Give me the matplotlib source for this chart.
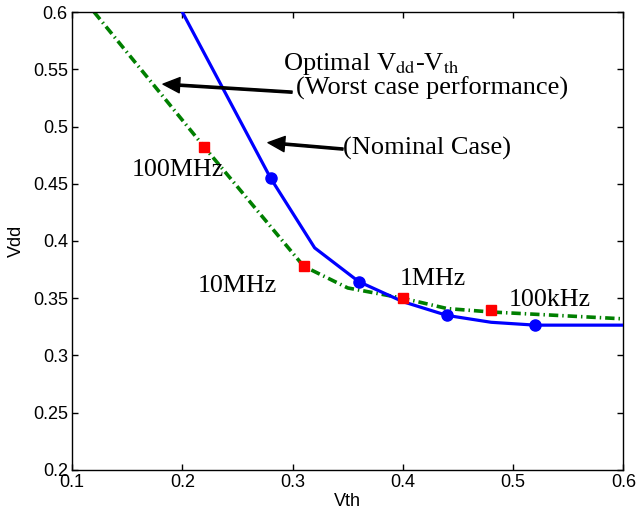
import matplotlib
matplotlib.use("Agg")
import matplotlib.pyplot as plt

# nominal case (blue)
nom_vth = [0.20, 0.28, 0.32, 0.36, 0.40, 0.44, 0.48, 0.52, 0.56, 0.60]
nom_vdd = [0.600, 0.455, 0.394, 0.3645, 0.347, 0.335, 0.329, 0.3265, 0.3265, 0.3265]
nom_mark_vth = [0.28, 0.36, 0.44, 0.52]
nom_mark_vdd = [0.455, 0.3645, 0.335, 0.3265]

# worst case (green dash-dot)
wc_vth = [0.12, 0.22, 0.31, 0.35, 0.40, 0.44, 0.48, 0.54, 0.60]
wc_vdd = [0.600, 0.482, 0.378, 0.359, 0.350, 0.341, 0.338, 0.335, 0.332]

# frequency points (red squares)
freq_vth = [0.22, 0.31, 0.40, 0.48]
freq_vdd = [0.482, 0.378, 0.350, 0.340]
freq_labels = ["100MHz", "10MHz", "1MHz", "100kHz"]
freq_label_pos = [(0.1544, 0.4568), (0.2142, 0.3552), (0.3974, 0.3616), (0.4962, 0.3435)]

xticks = [0.1, 0.2, 0.3, 0.4, 0.5, 0.6]
yticks = [0.2, 0.25, 0.3, 0.35, 0.4, 0.45, 0.5, 0.55, 0.6]

plt.rcParams['font.family'] = ['Liberation Sans', 'DejaVu Sans']
plt.rcParams['mathtext.fontset'] = 'stix'

fig = plt.figure(figsize=(6.39, 5.20), dpi=100)
ax = fig.add_axes([0.1127, 0.0962, 0.8630, 0.8807])

ax.plot(nom_vth, nom_vdd, color='#0000ff', lw=2.3, zorder=3)
ax.plot(nom_mark_vth, nom_mark_vdd, 'o', color='#0000ff', ms=8, zorder=4)
ax.plot(wc_vth, wc_vdd, color='#007f00', lw=2.6,
        linestyle=(0, (2.6, 1.1, 0.4, 1.1)), zorder=2)
ax.plot(freq_vth, freq_vdd, 's', color='#ff0000', ms=6.5, zorder=5)

serif = ['Liberation Serif', 'DejaVu Serif']
for lab, (x, y) in zip(freq_labels, freq_label_pos):
    ax.text(x, y, lab, family=serif, fontsize=18.7, ha='left', va='baseline')

ax.text(0.2913, 0.5493, r'Optimal V$_{\mathrm{dd}}$-V$_{\mathrm{th}}$',
        family=serif, fontsize=19, ha='left', va='baseline')
ax.text(0.3031, 0.5275, '(Worst case performance)',
        family=serif, fontsize=19, ha='left', va='baseline')
ax.text(0.3457, 0.4751, '(Nominal Case)',
        family=serif, fontsize=19, ha='left', va='baseline')

arrow = dict(facecolor='black', edgecolor='black', width=1.6, headwidth=11, headlength=12, shrink=0)
ax.annotate('', xy=(0.1825, 0.537), xytext=(0.2995, 0.530), arrowprops=arrow)
ax.annotate('', xy=(0.2777, 0.4859), xytext=(0.3457, 0.4803), arrowprops=arrow)

ax.set_xlim(0.1, 0.6)
ax.set_ylim(0.2, 0.6)
ax.set_xticks(xticks)
ax.set_yticks(yticks)
ax.set_xticklabels([f'{v:g}' for v in xticks])
ax.set_yticklabels([f'{v:g}' for v in yticks])
ax.tick_params(direction='in', top=True, right=True, length=4, width=1,
               labelsize=13, pad=3)
for s in ax.spines.values():
    s.set_linewidth(1)

ax.set_xlabel('Vth', fontsize=13, labelpad=1)
ax.set_ylabel('Vdd', fontsize=13, labelpad=6)

fig.savefig('out.png', dpi=100)
